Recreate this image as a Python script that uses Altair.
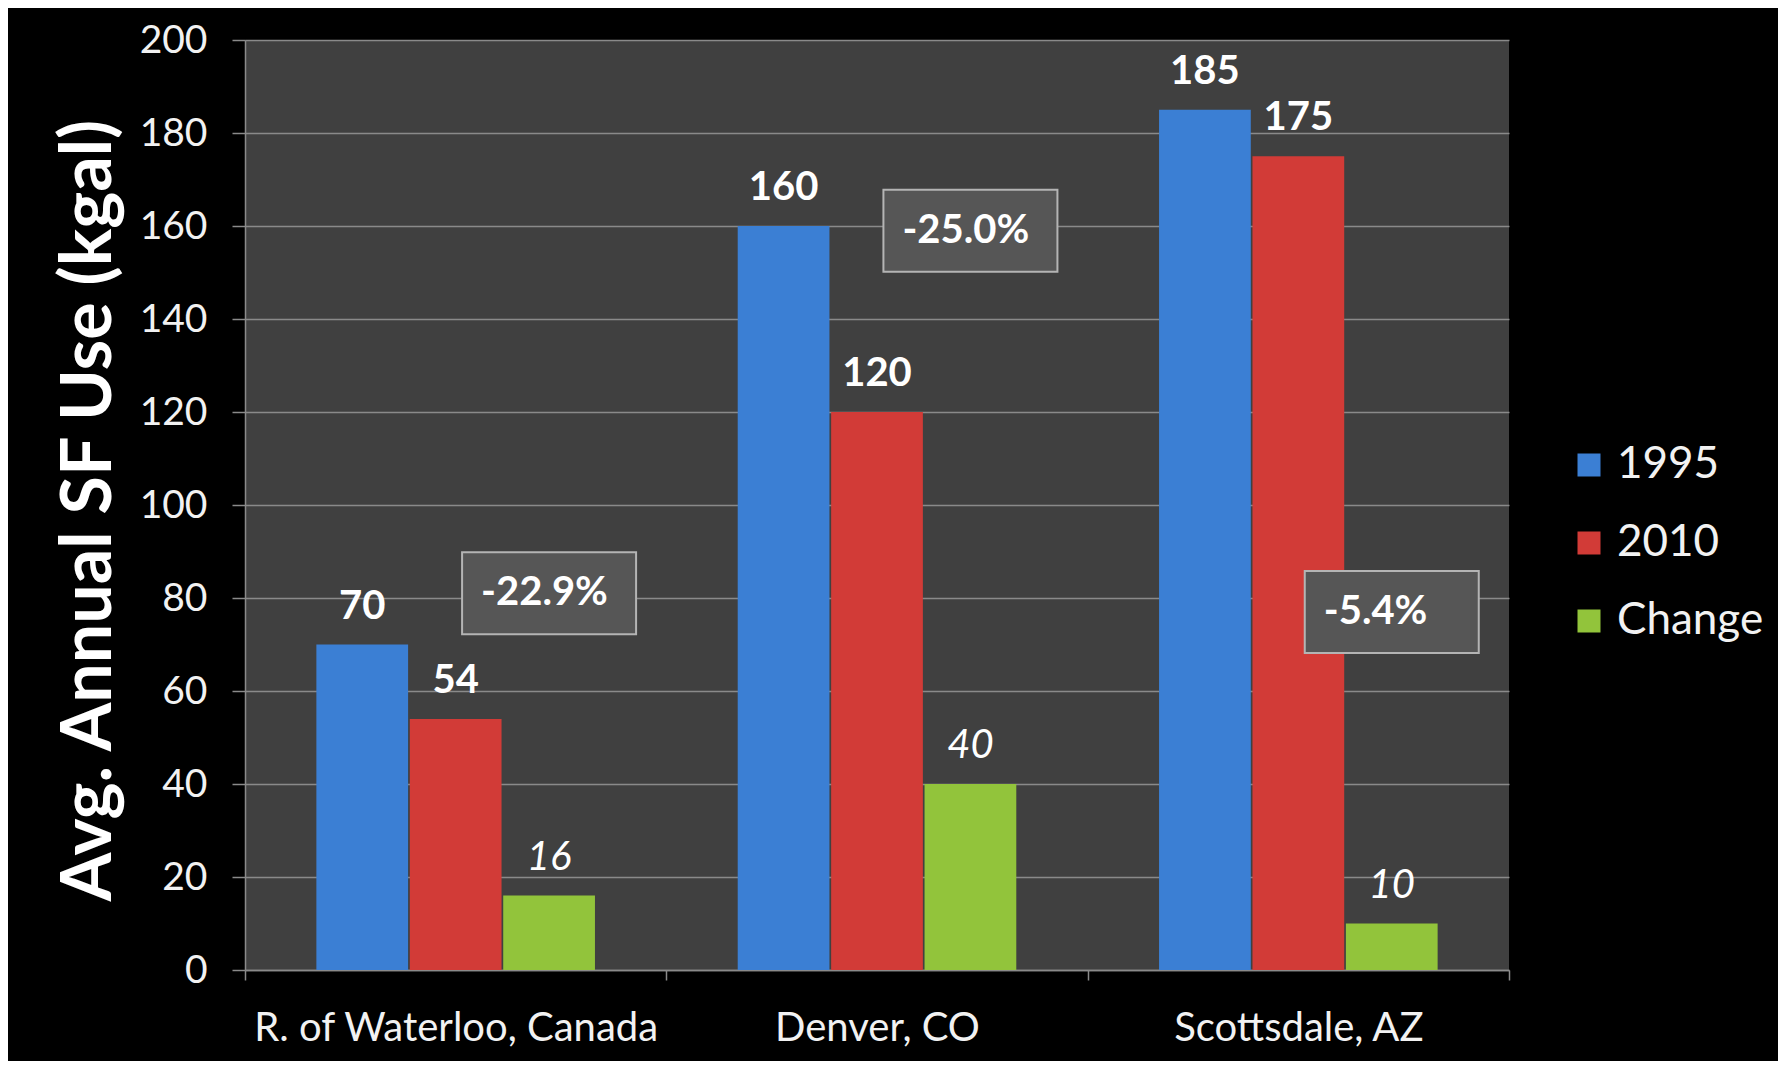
import altair as alt
import pandas as pd

cities = ["R. of Waterloo, Canada", "Denver, CO", "Scottsdale, AZ"]
series = ["1995", "2010", "Change"]
use_1995 = [70, 160, 185]
use_2010 = [54, 120, 175]
change = [16, 40, 10]
pct_labels = ["-22.9%", "-25.0%", "-5.4%"]
pct_pos = [81, 159, 77]  # vertical position of the % boxes, in kgal units
y_ticks = [0, 20, 40, 60, 80, 100, 120, 140, 160, 180, 200]
colors = ["#3b7fd4", "#d23b37", "#92c43b"]

rows = []
for i, c in enumerate(cities):
    for s, vals in zip(series, [use_1995, use_2010, change]):
        rows.append({"city": c, "series": s, "value": vals[i]})
df = pd.DataFrame(rows)
ann = pd.DataFrame({"city": cities, "series": ["Change"] * 3,
                    "label": pct_labels, "value": pct_pos})

FONT = "Lato"
GRID = "#8a8a8a"

x_enc = alt.X("city:N", sort=cities,
              scale=alt.Scale(paddingInner=0, paddingOuter=0),
              axis=alt.Axis(title=None, labelFontSize=40, labelColor="#f2f2f2",
                            labelFont=FONT, tickBand="extent", tickSize=10,
                            tickColor=GRID, tickWidth=1.5, domainColor=GRID,
                            domainWidth=1.5, labelPadding=28, labelAngle=0,
                            labelLimit=0, grid=False))
xo_enc = alt.XOffset("series:N", sort=series,
                     scale=alt.Scale(paddingInner=0.018, paddingOuter=0.764))
y_enc = alt.Y("value:Q", scale=alt.Scale(domain=[0, 200], nice=False),
              axis=alt.Axis(values=y_ticks, title="Avg. Annual SF Use (kgal)",
                            labelFontSize=39, labelColor="#f2f2f2", labelFont=FONT,
                            labelPadding=25, tickSize=13, tickColor=GRID,
                            tickWidth=1.5, domainColor=GRID, domainWidth=1.5,
                            gridColor=GRID, gridWidth=1.5,
                            titleFont=FONT, titleFontSize=70, titleFontWeight="bold",
                            titleColor="#ffffff", titleAngle=270, titleX=-156,
                            titleY=470, titleAlign="center", titleBaseline="middle",
                            titleLimit=0))

bars = alt.Chart(df).mark_bar().encode(
    x=x_enc, xOffset=xo_enc, y=y_enc,
    color=alt.Color("series:N", sort=series,
                    scale=alt.Scale(domain=series, range=colors),
                    legend=alt.Legend(title=None, orient="none", legendX=1322,
                                      legendY=403, labelFontSize=44,
                                      labelFont=FONT, labelColor="#f2f2f2",
                                      symbolType="square", symbolSize=529,
                                      symbolStrokeWidth=0, labelOffset=6,
                                      rowPadding=34, padding=0)),
)

year_labels = alt.Chart(df).transform_filter(
    alt.FieldOneOfPredicate(field="series", oneOf=["1995", "2010"])
).mark_text(font=FONT, fontSize=40, fontWeight="bold", color="#ffffff",
            baseline="alphabetic", dy=-26).encode(
    x=x_enc, xOffset=xo_enc, y=y_enc, text=alt.Text("value:Q"))

change_labels = alt.Chart(df).transform_filter(
    alt.FieldEqualPredicate(field="series", equal="Change")
).mark_text(font=FONT, fontSize=40, fontStyle="italic", color="#ffffff",
            baseline="alphabetic", dy=-26).encode(
    x=x_enc, xOffset=xo_enc, y=y_enc, text=alt.Text("value:Q"))

boxes = alt.Chart(ann).mark_point(
    shape="M-1,-0.4713L1,-0.4713L1,0.4713L-1,0.4713Z", size=30276,
    filled=True, fill="#565656", stroke="#b4b4b4", strokeWidth=2, opacity=1
).encode(x=x_enc, xOffset=xo_enc, y=y_enc)

box_text = alt.Chart(ann).mark_text(
    font=FONT, fontSize=40, fontWeight="bold", color="#ffffff",
    align="left", baseline="middle", dx=-68
).encode(x=x_enc, xOffset=xo_enc, y=y_enc, text="label:N")

chart = alt.layer(bars, year_labels, change_labels, boxes, box_text).properties(
    width=1264, height=930,
    padding={"left": 237, "top": 32, "right": 269, "bottom": 91},
    autosize=alt.AutoSizeParams(type="none"),
).configure(background="#000000").configure_view(fill="#404040", strokeWidth=0)

chart.save("out.html", embed_options={"renderer": "svg", "actions": False})
